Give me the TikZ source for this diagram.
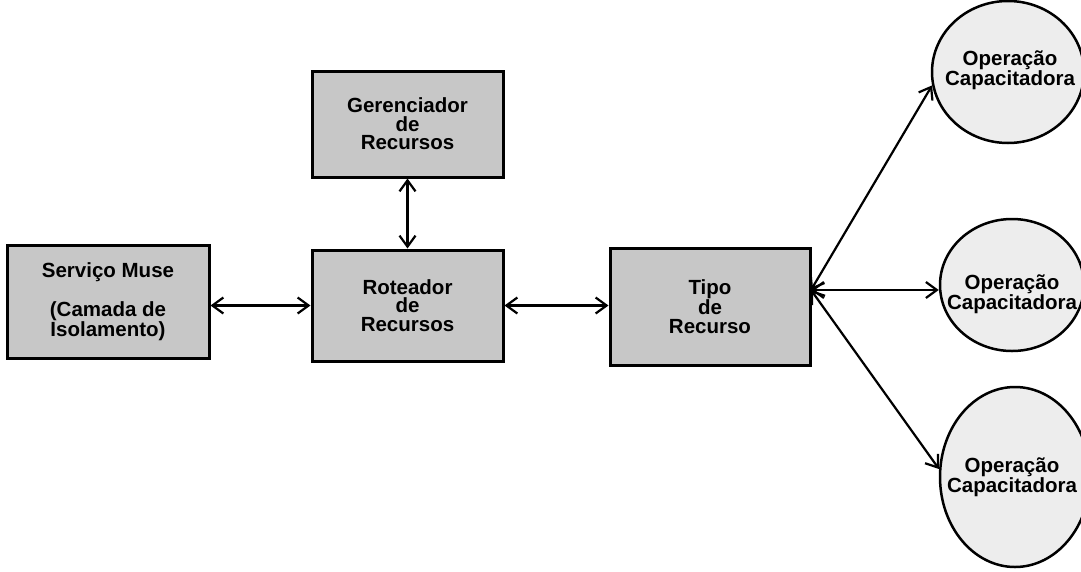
\documentclass[tikz,border=0pt]{standalone}
\usepackage{fontspec}
\setmainfont{Liberation Sans}
\usetikzlibrary{arrows.meta,shapes.geometric}

\tikzset{
  block/.style={draw=black, line width=3pt, fill=black!22, rectangle,
    inner sep=0pt, align=center,
    font=\bfseries\fontsize{20.5}{18.5}\selectfont},
  opshape/.style={draw=black, line width=2.5pt, fill=black!7, ellipse, inner sep=0pt},
  optext/.style={align=center, inner sep=0pt,
    font=\bfseries\fontsize{20.5}{18.5}\selectfont},
  link/.style={{Straight Barb[length=11pt,width=16pt]}-{Straight Barb[length=11pt,width=16pt]},
    line width=2.2pt}
}

\begin{document}
\begin{tikzpicture}[x=1pt,y=-1pt]
  \useasboundingbox (0,0) rectangle (1081,571);
  \clip (0,0) rectangle (1081,571);

  % service, manager, router and resource type
  \node[block, minimum width=202pt, minimum height=113pt] (muse) at (108,301.5)
    {Serviço Muse\\[18.5pt](Camada de\\Isolamento)};
  \node[block, minimum width=191pt, minimum height=106pt] (ger) at (407.5,124)
    {Gerenciador\\de\\Recursos};
  \node[block, minimum width=191pt, minimum height=111pt] (rot) at (407.5,305.5)
    {Roteador\\de\\Recursos};
  \node[block, minimum width=200pt, minimum height=117pt] (tipo) at (710,306.5)
    {Tipo\\de\\Recurso};

  % enabling operations
  \node[opshape, minimum width=152pt, minimum height=142pt] (op1) at (1008,72) {};
  \node[opshape, minimum width=144pt, minimum height=132pt] (op2) at (1012,285) {};
  \node[opshape, minimum width=150pt, minimum height=180pt] (op3) at (1015,477) {};
  \node[optext] (t1) at (1010,70) {Operação\\Capacitadora};
  \node[optext] (t2) at (1012,294) {Operação\\Capacitadora};
  \node[optext] (t3) at (1012,477) {Operação\\Capacitadora};

  % connectors
  \coordinate (hub) at (811,290);
  \draw[link] (muse.east |- rot.west) -- (rot.west);
  \draw[link] (rot.east) -- (tipo.west |- rot.east);
  \draw[link] (ger.south) -- (rot.north);
  \draw[link] (hub) -- (op1.190);
  \draw[link] (hub) -- (hub -| op2.west);
  \draw[link] (hub) -- (op3.174);
\end{tikzpicture}
\end{document}
